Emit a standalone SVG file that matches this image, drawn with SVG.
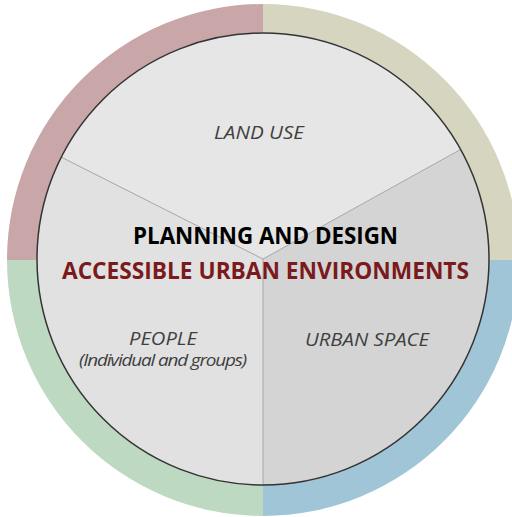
<svg xmlns="http://www.w3.org/2000/svg" width="512" height="517" viewBox="0 0 512 517">
  <style>
    .lbl { font-family: "Open Sans", "Liberation Sans", sans-serif; font-style: italic; fill: #3f3f3f; text-anchor: middle; font-size: 18.5px; }
    .title { font-family: "Open Sans", "Liberation Sans", sans-serif; font-weight: bold; text-anchor: middle; font-size: 23.5px; }
    .div { stroke: #a8a8a8; stroke-width: 1; fill: none; }
  </style>
  <rect width="512" height="517" fill="#ffffff"/>
  <g id="ring">
    <path d="M263,260 L263,4 A256,256 0 0 0 7,260 Z" fill="#c9a6a7"/>
    <path d="M263,260 L519,260 A256,256 0 0 0 263,4 Z" fill="#d6d5c0"/>
    <path d="M263,260 L263,516 A256,256 0 0 0 519,260 Z" fill="#9fc5d7"/>
    <path d="M263,260 L7,260 A256,256 0 0 0 263,516 Z" fill="#bdd9c1"/>
  </g>
  <g id="land-use">
    <path d="M263,259 L61,157 A226,226 0 0 1 460.7,149.4 Z" fill="#e6e6e6"/>
    <text class="lbl" x="259" y="138.5" textLength="90" lengthAdjust="spacingAndGlyphs">LAND USE</text>
  </g>
  <g id="urban-space">
    <path d="M263,259 L460.7,149.4 A226,226 0 0 1 263,485 Z" fill="#d4d4d4"/>
    <text class="lbl" x="367" y="345.5" textLength="124" lengthAdjust="spacingAndGlyphs">URBAN SPACE</text>
  </g>
  <g id="people">
    <path d="M263,259 L263,485 A226,226 0 0 1 61,157 Z" fill="#e1e1e1"/>
    <text class="lbl" x="163" y="345" textLength="68" lengthAdjust="spacingAndGlyphs">PEOPLE</text>
    <text class="lbl" x="162.5" y="366" style="font-size:16.5px" textLength="167" lengthAdjust="spacingAndGlyphs" letter-spacing="-1">(Individual and groups)</text>
  </g>
  <g id="connectors">
    <line class="div" x1="263" y1="259" x2="61" y2="157"/>
    <line class="div" x1="263" y1="259" x2="460.7" y2="149.4"/>
    <line class="div" x1="263" y1="259" x2="263" y2="485"/>
  </g>
  <circle cx="263" cy="259" r="226" fill="none" stroke="#333333" stroke-width="1.5"/>
  <g id="center">
    <text class="title" x="265.5" y="243.5" fill="#000000" textLength="265" lengthAdjust="spacingAndGlyphs">PLANNING AND DESIGN</text>
    <text class="title" x="265.5" y="279" fill="#7a1a1c" textLength="407" lengthAdjust="spacingAndGlyphs">ACCESSIBLE URBAN ENVIRONMENTS</text>
  </g>
</svg>
